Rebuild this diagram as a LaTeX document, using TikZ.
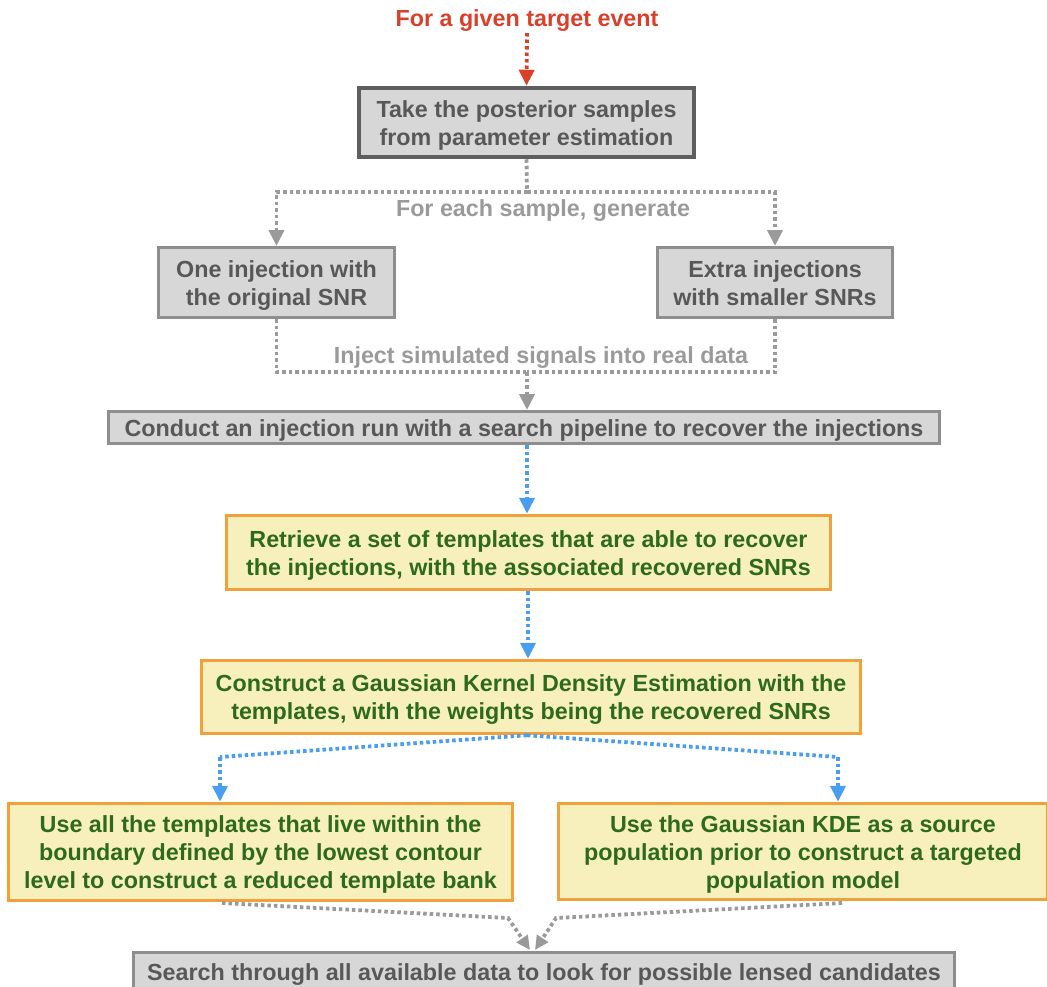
\documentclass[tikz,border=0pt]{standalone}
\usepackage{fontspec}
\setmainfont{Liberation Sans}
\usetikzlibrary{arrows.meta,calc}

\definecolor{evred}{HTML}{D9402A}
\definecolor{boxgray}{HTML}{D7D7D7}
\definecolor{darkline}{HTML}{5F5F5F}
\definecolor{midline}{HTML}{8E8E8E}
\definecolor{darktext}{HTML}{585858}
\definecolor{labelgray}{HTML}{9A9A9A}
\definecolor{kdeyellow}{HTML}{F8F0BC}
\definecolor{kdeorange}{HTML}{F0A03C}
\definecolor{kdegreen}{HTML}{2E6A1E}
\definecolor{flowblue}{HTML}{4A9EF0}

% centred lines, set slightly lower than the box centre
\newcommand\boxlines[1]{\raisebox{-3pt}[\height][\depth]{\begin{tabular}{@{}c@{}}#1\end{tabular}}}

\tikzset{
  txt/.style={font=\bfseries\fontsize{23.3}{28}\selectfont},
  graybox/.style={draw=midline, line width=3pt, fill=boxgray, text=darktext,
    inner sep=0pt, txt},
  yellowbox/.style={draw=kdeorange, line width=3.5pt, fill=kdeyellow, text=kdegreen,
    inner sep=0pt, txt},
  dotline/.style={line width=3.8pt, dash pattern=on 3.5pt off 3pt},
  graydot/.style={dotline, draw=labelgray},
  bluedot/.style={dotline, draw=flowblue},
  reddot/.style={dotline, draw=evred},
  tip/.style={-{Triangle[length=16pt,width=15pt]}},
  smalltip/.style={-{Triangle[length=14pt,width=13pt]}},
  flowlabel/.style={txt, text=labelgray},
}

\begin{document}
\begin{tikzpicture}[x=1pt,y=-1pt]
\useasboundingbox (0,0) rectangle (1047,986);

% title and first box
\node[txt, text=evred] (title) at (527,18) {\boxlines{For a given target event}};
\node[draw=darkline, line width=4.5pt, fill=boxgray, text=darktext,
  inner sep=0pt, minimum width=335pt, minimum height=69pt, txt]
  (post) at (526.5,122.5) {\boxlines{Take the posterior samples\\from parameter estimation}};

% two kinds of injections
\node[graybox, minimum width=236pt, minimum height=70pt] (orig) at (276.5,282.5)
  {\boxlines{One injection with\\the original SNR}};
\node[graybox, minimum width=235pt, minimum height=70pt] (extra) at (775,282.5)
  {\boxlines{Extra injections\\with smaller SNRs}};

% injection run
\node[graybox, minimum width=831pt, minimum height=32pt] (run) at (524,427.5)
  {\boxlines{Conduct an injection run with a search pipeline to recover the injections}};

% template retrieval and KDE
\node[yellowbox, minimum width=604pt, minimum height=74pt] (retr) at (528.5,552.5)
  {\boxlines{Retrieve a set of templates that are able to recover\\the injections, with the associated recovered SNRs}};
\node[yellowbox, minimum width=659pt, minimum height=73pt] (kde) at (531,697)
  {\boxlines{Construct a Gaussian Kernel Density Estimation with the\\templates, with the weights being the recovered SNRs}};

% two uses of the KDE
\node[yellowbox, minimum width=504pt, minimum height=97pt] (bank) at (260.5,852)
  {\boxlines{Use all the templates that live within the\\boundary defined by the lowest contour\\level to construct a reduced template bank}};
\node[yellowbox, minimum width=489pt, minimum height=96pt] (prior) at (803,851.5)
  {\boxlines{Use the Gaussian KDE as a source\\population prior to construct a targeted\\population model}};

% final search
\node[graybox, minimum width=821pt, minimum height=40pt] (search) at (544,972)
  {\boxlines{Search through all available data to look for possible lensed candidates}};

% junction points
\coordinate (split) at (527,192);
\coordinate (merge) at (527,372);
\coordinate (kdel) at (220,757);
\coordinate (kder) at (838,757);
\coordinate (botl) at (222,903);
\coordinate (botr) at (842,903);
\coordinate (midl) at (508,918);
\coordinate (midr) at (556,918);
\coordinate (endl) at (530,950);
\coordinate (endr) at (535,950);

% connectors
\draw[reddot, tip] (title.south |- 0,33) -- (post.north);

\draw[graydot] (post.south) -- (split);
\draw[graydot, tip] (split) -| (orig.north);
\draw[graydot, tip] (split) -| (extra.north);
\node[flowlabel] (lab1) at (543,208) {\boxlines{For each sample, generate}};

\draw[graydot] (orig.south) |- (merge);
\draw[graydot] (extra.south) |- (merge);
\draw[graydot, tip] (merge) -- (run.north -| merge);
\node[flowlabel] (lab2) at (541,355) {\boxlines{Inject simulated signals into real data}};

\draw[bluedot, tip] (run.south -| 527,0) -- (retr.north -| 527,0);
\draw[bluedot, tip] (retr.south -| 528,0) -- (kde.north -| 528,0);

\draw[bluedot] (kde.south -| 527,0) -- (kdel);
\draw[bluedot, tip] (kdel) -- (kdel |- bank.north);
\draw[bluedot] (kde.south -| 527,0) -- (kder);
\draw[bluedot, tip] (kder) -- (kder |- prior.north);

\draw[graydot, smalltip] (botl) -- (midl) -- (endl);
\draw[graydot, smalltip] (botr) -- (midr) -- (endr);
\end{tikzpicture}
\end{document}
